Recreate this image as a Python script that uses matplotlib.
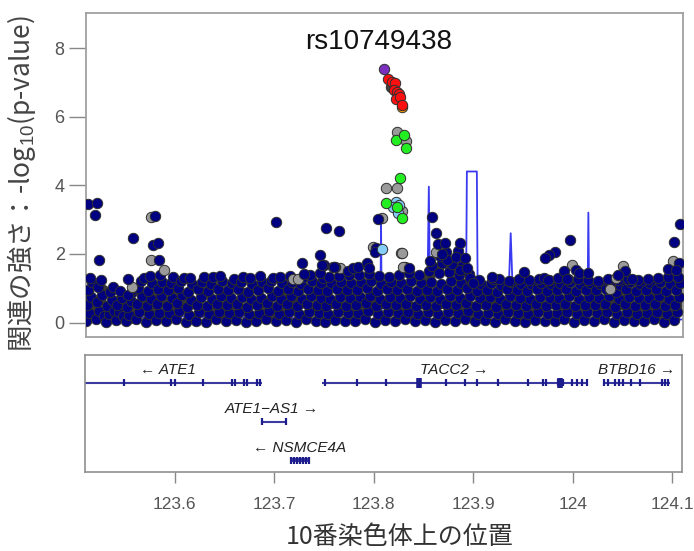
import matplotlib
matplotlib.use("Agg")
import matplotlib.pyplot as plt

plt.rcParams['font.family'] = ['Liberation Sans', 'Noto Sans CJK JP', 'DejaVu Sans']
plt.rcParams['mathtext.fontset'] = 'custom'
plt.rcParams['mathtext.rm'] = 'Liberation Sans'
plt.rcParams['mathtext.it'] = 'Liberation Sans:italic'

# --- SNP cloud: (position Mb, -log10 p) ---
band_navy = [
    (123.511, 0.05), (123.514, 0.28), (123.512, 0.52), (123.516, 0.74), (123.513, 0.96), (123.517, 1.17), (123.515, 1.30),
    (123.521, 0.10), (123.524, 0.33), (123.522, 0.60), (123.527, 0.81), (123.523, 1.05), (123.526, 1.24), (123.529, 0.20),
    (123.531, 0.03), (123.534, 0.24), (123.532, 0.47), (123.537, 0.66), (123.535, 0.88), (123.538, 1.04), (123.539, 0.35),
    (123.541, 0.08), (123.544, 0.30), (123.542, 0.50), (123.547, 0.72), (123.545, 0.92), (123.548, 0.19),
    (123.551, 0.04), (123.554, 0.22), (123.552, 0.45), (123.556, 0.64), (123.557, 0.90), (123.559, 0.99), (123.553, 0.80),
    (123.561, 0.09), (123.564, 0.31), (123.562, 0.55), (123.567, 0.78), (123.563, 1.00), (123.566, 1.22), (123.569, 1.31),
    (123.571, 0.02), (123.574, 0.26), (123.572, 0.48), (123.576, 0.70), (123.573, 0.93), (123.577, 1.15), (123.575, 1.36),
    (123.581, 0.07), (123.584, 0.29), (123.582, 0.53), (123.586, 0.76), (123.583, 0.98), (123.587, 1.19), (123.585, 1.40),
    (123.591, 0.04), (123.594, 0.27), (123.592, 0.49), (123.597, 0.71), (123.593, 0.94), (123.596, 1.16), (123.598, 1.33),
    (123.601, 0.10), (123.604, 0.33), (123.602, 0.57), (123.607, 0.79), (123.603, 1.01), (123.606, 1.21), (123.609, 1.30),
    (123.611, 0.03), (123.614, 0.23), (123.612, 0.45), (123.616, 0.67), (123.613, 0.89), (123.617, 1.11), (123.615, 1.29),
    (123.621, 0.06), (123.624, 0.30), (123.622, 0.52), (123.626, 0.75), (123.623, 0.97), (123.627, 1.18), (123.629, 1.34),
    (123.631, 0.02), (123.634, 0.25), (123.632, 0.48), (123.637, 0.69), (123.633, 0.91), (123.636, 1.13), (123.638, 1.32),
    (123.641, 0.09), (123.644, 0.32), (123.642, 0.55), (123.646, 0.77), (123.643, 0.99), (123.647, 1.20), (123.645, 1.35),
    (123.651, 0.05), (123.654, 0.27), (123.652, 0.50), (123.656, 0.72), (123.653, 0.95), (123.657, 1.16), (123.659, 1.28),
    (123.661, 0.08), (123.664, 0.30), (123.662, 0.53), (123.667, 0.75), (123.663, 0.97), (123.666, 1.19), (123.668, 1.33),
    (123.671, 0.03), (123.674, 0.24), (123.672, 0.46), (123.676, 0.68), (123.673, 0.90), (123.677, 1.12), (123.675, 1.31),
    (123.681, 0.06), (123.684, 0.29), (123.682, 0.51), (123.686, 0.73), (123.683, 0.96), (123.687, 1.17), (123.685, 1.36),
    (123.691, 0.10), (123.694, 0.33), (123.692, 0.56), (123.697, 0.78), (123.693, 1.00), (123.696, 1.21), (123.698, 1.30),
    (123.701, 0.04), (123.704, 0.26), (123.702, 0.49), (123.706, 0.70), (123.703, 0.93), (123.707, 1.14), (123.705, 1.33),
    (123.711, 0.07), (123.714, 0.31), (123.712, 0.54), (123.716, 0.76), (123.713, 0.98), (123.717, 1.19), (123.715, 1.37),
    (123.721, 0.02), (123.724, 0.24), (123.722, 0.47), (123.727, 0.69), (123.723, 0.92), (123.726, 1.13), (123.728, 1.32),
    (123.731, 0.09), (123.734, 0.32), (123.732, 0.55), (123.736, 0.77), (123.733, 0.99), (123.737, 1.20), (123.735, 1.40),
    (123.741, 0.05), (123.744, 0.28), (123.742, 0.50), (123.746, 0.72), (123.743, 0.95), (123.747, 1.16), (123.749, 1.30),
    (123.751, 0.03), (123.754, 0.25), (123.752, 0.48), (123.756, 0.70), (123.753, 0.92), (123.757, 1.14), (123.755, 1.33),
    (123.761, 0.08), (123.764, 0.30), (123.762, 0.53), (123.766, 0.75), (123.763, 0.97), (123.767, 1.18), (123.765, 1.36),
    (123.771, 0.04), (123.774, 0.27), (123.772, 0.49), (123.776, 0.71), (123.773, 0.94), (123.777, 1.15), (123.775, 1.38),
    (123.781, 0.06), (123.784, 0.29), (123.782, 0.52), (123.786, 0.74), (123.783, 0.96), (123.787, 1.17), (123.785, 1.40),
    (123.791, 0.10), (123.794, 0.33), (123.792, 0.56), (123.796, 0.78), (123.793, 1.00), (123.797, 1.21), (123.795, 1.42),
    (123.801, 0.03), (123.804, 0.25), (123.802, 0.47), (123.806, 0.69), (123.803, 0.91), (123.807, 1.12), (123.805, 1.36),
    (123.811, 0.07), (123.814, 0.30), (123.812, 0.53), (123.816, 0.75), (123.813, 0.97), (123.817, 1.18), (123.815, 1.33),
    (123.821, 0.05), (123.824, 0.27), (123.822, 0.50), (123.826, 0.72), (123.823, 0.95), (123.827, 1.16), (123.825, 1.40),
    (123.831, 0.09), (123.834, 0.32), (123.832, 0.55), (123.836, 0.77), (123.833, 0.99), (123.837, 1.21), (123.835, 1.45),
    (123.841, 0.04), (123.844, 0.26), (123.842, 0.48), (123.846, 0.70), (123.843, 0.92), (123.847, 1.14), (123.845, 1.38),
    (123.851, 0.07), (123.854, 0.30), (123.852, 0.52), (123.856, 0.74), (123.853, 0.96), (123.857, 1.17), (123.855, 1.50), (123.858, 1.66),
    (123.861, 0.03), (123.864, 0.25), (123.862, 0.47), (123.866, 0.69), (123.863, 0.91), (123.867, 1.13), (123.865, 1.45), (123.868, 1.75), (123.866, 1.95),
    (123.871, 0.08), (123.874, 0.31), (123.872, 0.54), (123.876, 0.76), (123.873, 0.98), (123.877, 1.20), (123.875, 1.48), (123.878, 1.70), (123.872, 2.05),
    (123.881, 0.05), (123.884, 0.28), (123.882, 0.51), (123.886, 0.73), (123.883, 0.95), (123.887, 1.16), (123.885, 1.40), (123.888, 1.65), (123.884, 2.10),
    (123.891, 0.10), (123.894, 0.33), (123.892, 0.56), (123.896, 0.78), (123.893, 1.00), (123.897, 1.22), (123.895, 1.42),
    (123.901, 0.04), (123.904, 0.26), (123.902, 0.49), (123.906, 0.71), (123.903, 0.93), (123.907, 1.12), (123.905, 1.25),
    (123.911, 0.07), (123.914, 0.29), (123.912, 0.52), (123.916, 0.74), (123.913, 0.96), (123.917, 1.15), (123.919, 1.28),
    (123.921, 0.03), (123.924, 0.24), (123.922, 0.46), (123.926, 0.68), (123.923, 0.90), (123.927, 1.10), (123.925, 1.26),
    (123.931, 0.09), (123.934, 0.31), (123.932, 0.54), (123.936, 0.76), (123.933, 0.98), (123.937, 1.17), (123.935, 1.22),
    (123.941, 0.05), (123.944, 0.27), (123.942, 0.50), (123.946, 0.72), (123.943, 0.94), (123.947, 1.13), (123.945, 1.27),
    (123.951, 0.02), (123.954, 0.25), (123.952, 0.47), (123.956, 0.69), (123.953, 0.91), (123.957, 1.11), (123.955, 1.24),
    (123.961, 0.08), (123.964, 0.30), (123.962, 0.53), (123.966, 0.75), (123.963, 0.97), (123.967, 1.16), (123.965, 1.28),
    (123.971, 0.04), (123.974, 0.26), (123.972, 0.49), (123.976, 0.71), (123.973, 0.93), (123.977, 1.12), (123.975, 1.25),
    (123.981, 0.06), (123.984, 0.29), (123.982, 0.51), (123.986, 0.73), (123.983, 0.95), (123.987, 1.14), (123.985, 1.30),
    (123.991, 0.10), (123.994, 0.32), (123.992, 0.55), (123.996, 0.77), (123.993, 0.99), (123.997, 1.18), (123.995, 1.26),
    (124.001, 0.03), (124.004, 0.25), (124.002, 0.48), (124.006, 0.70), (124.003, 0.92), (124.007, 1.11), (124.005, 1.27),
    (124.011, 0.07), (124.014, 0.30), (124.012, 0.52), (124.016, 0.74), (124.013, 0.96), (124.017, 1.15), (124.015, 1.24),
    (124.021, 0.05), (124.024, 0.27), (124.022, 0.50), (124.026, 0.72), (124.023, 0.94), (124.027, 1.13), (124.025, 1.22),
    (124.031, 0.09), (124.034, 0.31), (124.032, 0.54), (124.036, 0.76), (124.033, 0.98), (124.037, 1.16), (124.035, 1.27),
    (124.041, 0.02), (124.044, 0.24), (124.042, 0.46), (124.046, 0.68), (124.043, 0.90), (124.047, 1.10), (124.045, 1.25),
    (124.051, 0.08), (124.054, 0.30), (124.052, 0.53), (124.056, 0.75), (124.053, 0.97), (124.057, 1.17), (124.055, 1.28),
    (124.061, 0.04), (124.064, 0.26), (124.062, 0.49), (124.066, 0.71), (124.063, 0.93), (124.067, 1.12), (124.065, 1.23),
    (124.071, 0.06), (124.074, 0.29), (124.072, 0.51), (124.076, 0.73), (124.073, 0.95), (124.077, 1.14), (124.075, 1.26),
    (124.081, 0.10), (124.084, 0.32), (124.082, 0.55), (124.086, 0.77), (124.083, 0.99), (124.087, 1.18), (124.085, 1.30),
    (124.091, 0.03), (124.094, 0.25), (124.092, 0.48), (124.096, 0.70), (124.093, 0.92), (124.097, 1.13), (124.095, 1.33),
    (124.101, 0.07), (124.104, 0.30), (124.102, 0.52), (124.106, 0.74), (124.103, 0.96), (124.107, 1.16), (124.105, 1.32),
]

band_dark = [
    (123.518, 0.42), (123.513, 0.86), (123.525, 0.70), (123.528, 0.95), (123.533, 0.15), (123.536, 0.57),
    (123.543, 0.62), (123.546, 0.40), (123.555, 0.12), (123.558, 0.35), (123.565, 0.44), (123.568, 0.66),
    (123.578, 0.37), (123.579, 0.82), (123.588, 0.18), (123.589, 0.63), (123.595, 0.38), (123.599, 0.85),
    (123.605, 0.46), (123.608, 0.68), (123.618, 0.56), (123.619, 0.14), (123.625, 0.41), (123.628, 0.86),
    (123.635, 0.36), (123.639, 0.60), (123.648, 0.44), (123.649, 0.18), (123.655, 0.63), (123.658, 0.38),
    (123.665, 0.42), (123.669, 0.87), (123.678, 0.57), (123.679, 0.15), (123.688, 0.40), (123.689, 0.62),
    (123.695, 0.45), (123.699, 0.22), (123.708, 0.37), (123.709, 0.81), (123.718, 0.43), (123.719, 0.64),
    (123.725, 0.58), (123.729, 0.17), (123.738, 0.41), (123.739, 0.86), (123.745, 0.38), (123.748, 0.61),
    (123.758, 0.56), (123.759, 0.14), (123.768, 0.42), (123.769, 0.83), (123.778, 0.36), (123.779, 0.60),
    (123.788, 0.45), (123.789, 0.20), (123.798, 0.40), (123.799, 0.66), (123.808, 0.58), (123.809, 0.16),
    (123.818, 0.42), (123.819, 0.85), (123.828, 0.38), (123.829, 0.62), (123.838, 0.44), (123.839, 0.18),
    (123.848, 0.56), (123.849, 0.83), (123.859, 0.40), (123.855, 1.32), (123.869, 0.58), (123.864, 1.60),
    (123.879, 0.44), (123.876, 1.62), (123.889, 0.37), (123.886, 1.55), (123.898, 0.45), (123.899, 0.19),
    (123.908, 0.57), (123.909, 0.84), (123.915, 0.41), (123.918, 0.63), (123.928, 0.36), (123.929, 0.15),
    (123.938, 0.43), (123.939, 0.82), (123.948, 0.58), (123.949, 0.21), (123.958, 0.39), (123.959, 0.64),
    (123.968, 0.44), (123.969, 0.86), (123.978, 0.56), (123.979, 0.17), (123.988, 0.40), (123.989, 0.62),
    (123.998, 0.45), (123.999, 0.83), (124.008, 0.37), (124.009, 0.16), (124.018, 0.58), (124.019, 0.84),
    (124.028, 0.42), (124.029, 0.20), (124.038, 0.38), (124.039, 0.65), (124.048, 0.55), (124.049, 0.83),
    (124.058, 0.43), (124.059, 0.17), (124.068, 0.39), (124.069, 0.61), (124.078, 0.46), (124.079, 0.85),
    (124.088, 0.57), (124.089, 0.21), (124.098, 0.40), (124.099, 0.64), (124.108, 0.44), (124.109, 0.86),
]

navy_high = [
    (123.513, 3.46), (123.522, 3.48), (123.520, 3.12), (123.524, 1.83), (123.558, 2.45), (123.580, 3.11),
    (123.578, 2.26), (123.583, 2.31), (123.584, 1.83), (123.553, 1.26), (123.701, 2.92), (123.752, 2.75),
    (123.765, 2.67), (123.745, 1.97), (123.727, 1.73), (123.729, 1.42), (123.750, 1.68), (123.759, 1.61),
    (123.761, 1.61), (123.774, 1.49), (123.779, 1.60), (123.784, 1.61), (123.793, 1.73), (123.795, 1.58),
    (123.802, 2.17), (123.804, 3.02), (123.745, 1.44), (123.801, 2.07), (123.858, 3.07), (123.862, 2.62),
    (123.864, 2.29), (123.871, 2.31), (123.886, 2.31), (123.873, 1.83), (123.882, 1.92), (123.891, 1.87),
    (123.856, 1.78), (123.886, 1.53), (123.893, 1.58), (123.896, 1.29), (123.899, 1.15), (123.835, 1.60),
    (123.918, 1.32), (123.950, 1.48), (123.997, 2.41), (123.981, 2.07), (123.975, 1.97), (123.971, 1.87),
    (124.003, 1.53), (124.006, 1.44), (123.991, 1.49), (123.994, 1.26), (124.015, 1.44), (123.970, 1.29),
    (123.974, 1.24), (124.052, 1.49), (124.045, 1.39), (124.059, 1.26), (124.107, 2.87), (124.101, 2.34),
    (124.106, 1.75), (124.095, 1.55), (124.103, 1.53), (123.748, 1.68), (123.760, 1.63), (123.868, 2.00),
]

grey_pts = [
    (123.576, 3.07), (123.576, 1.83), (123.589, 1.53), (123.557, 1.05), (123.718, 1.26), (123.723, 1.26),
    (123.766, 1.58), (123.799, 2.21), (123.808, 3.04), (123.862, 2.07), (123.827, 2.04), (123.831, 1.63),
    (123.999, 1.68), (124.050, 1.65), (124.043, 1.29), (124.037, 0.97), (124.100, 1.80), (123.823, 5.56),
    (123.832, 5.30), (123.812, 3.93), (123.823, 3.93), (123.828, 3.25), (123.828, 2.04), (123.829, 1.63),
]

lightblue_pts = [(123.808, 2.15), (123.822, 3.52), (123.825, 3.43), (123.819, 3.38), (123.824, 3.18)]
green_pts = [(123.812, 3.48), (123.826, 4.20), (123.822, 5.32), (123.830, 5.46), (123.832, 5.08),
             (123.823, 3.38), (123.828, 3.04)]
orange_pts = [(123.828, 6.27)]
dark_top = [(123.817, 6.86)]
red_pts = [(123.814, 7.09), (123.818, 7.02), (123.821, 6.97), (123.820, 6.79), (123.823, 6.73),
           (123.825, 6.65), (123.822, 6.51), (123.826, 6.58), (123.828, 6.34)]
index_snp = [(123.810, 7.39)]
index_name = "rs10749438"

# recombination rate (cM/Mb)
recomb_pos = [123.510, 123.600, 123.700, 123.8060, 123.8068, 123.8075, 123.8530, 123.8548, 123.8562,
              123.8920, 123.8930, 123.9030, 123.9040, 123.9340, 123.9370, 123.9400, 124.0140, 124.0150,
              124.0160, 124.110]
recomb_rate = [1, 2, 1.5, 1, 32.6, 1, 1, 44, 1, 1, 48.9, 48.9, 1, 1, 28.9, 1, 1, 35.6, 1, 1]

# genes
gene_labels = ["\u2190 ATE1", "TACC2 \u2192", "BTBD16 \u2192", "ATE1\u2212AS1 \u2192", "\u2190 NSMCE4A"]
gene_label_x = [123.593, 123.881, 124.064, 123.698, 123.726]
gene_start = [123.505, 123.748, 124.031, 123.688, 123.716]
gene_end = [123.688, 124.014, 124.098, 123.712, 123.735]
gene_row = [0, 0, 0, -1, -2]
gene_exons = [
    [123.549, 123.596, 123.600, 123.629, 123.658, 123.661, 123.670, 123.673, 123.683, 123.686],
    [123.751, 123.783, 123.812, 123.846, 123.873, 123.892, 123.904, 123.925, 123.955, 123.970,
     123.973, 123.985, 123.990, 123.999, 124.004, 124.009, 124.014],
    [124.031, 124.035, 124.042, 124.046, 124.050, 124.058, 124.067, 124.090, 124.093, 124.096],
    [123.688, 123.712],
    [123.717, 123.720, 123.723, 123.726, 123.729, 123.732, 123.735],
]
big_exons = [(123.845, 0), (123.987, 0)]

xticks = [123.6, 123.7, 123.8, 123.9, 124.0, 124.1]
xtick_labels = ["123.6", "123.7", "123.8", "123.9", "124", "124.1"]

fig = plt.figure(figsize=(6.94, 5.51), dpi=100)
ax = fig.add_axes([0.1232, 0.3884, 0.8609, 0.5880])
ax2 = ax.twinx()
ax.set_zorder(ax2.get_zorder() + 1)
ax.patch.set_visible(False)

ax2.plot(recomb_pos, recomb_rate, color='#3a3af0', lw=1.3)
ax2.set_ylim(-4.67, 100.2)
ax2.set_yticks([])
for s in ax2.spines.values():
    s.set_visible(False)


def dots(pts, face, z):
    ax.scatter([p[0] for p in pts], [p[1] for p in pts], s=56, c=face,
               edgecolors='#2e2e2e', linewidths=0.7, zorder=z)


dots(band_dark, '#3a3a3a', 2)
dots(band_navy, '#000080', 3)
dots(grey_pts, '#9a9a9a', 4)
dots(navy_high, '#000080', 5)
dots(lightblue_pts, '#87cefa', 6)
dots(green_pts, '#22ee22', 7)
dots(orange_pts, '#ffa500', 8)
dots(dark_top, '#444444', 8)
dots(red_pts, '#ff1010', 9)
dots(index_snp, '#7b2fbe', 10)

ax.text(123.804, 8.17, index_name, ha='center', va='center', fontsize=20, color='#111111')

ax.set_xlim(123.51, 124.11)
ax.set_ylim(-0.42, 9.02)
ax.set_xticks([])
ax.set_yticks([0, 2, 4, 6, 8])
ax.tick_params(axis='y', length=12, width=1, color='#888888', labelcolor='#555555',
               labelsize=13, pad=3)
for s in ax.spines.values():
    s.set_color('#a0a0a0')
    s.set_linewidth(1.3)

# gene panel
axg = fig.add_axes([0.1225, 0.1439, 0.8607, 0.2118])
axg.set_xlim(123.51, 124.11)
axg.set_ylim(-2.29, 0.71)
for i in range(len(gene_labels)):
    r = gene_row[i]
    lw = 3.0 if gene_labels[i].endswith('NSMCE4A') else 1.5
    axg.plot([gene_start[i], gene_end[i]], [r, r], color='#3a3aa0', lw=lw, solid_capstyle='butt')
    axg.vlines(gene_exons[i], r - 0.09, r + 0.09, color='#1c1c8c', lw=1.6)
    axg.text(gene_label_x[i], r + 0.33, gene_labels[i], ha='center', va='center',
             fontsize=11, style='italic', color='#222222')
for bx, br in big_exons:
    axg.vlines([bx], br - 0.13, br + 0.13, color='#1c1c8c', lw=4)

axg.set_xticks(xticks)
axg.set_xticklabels(xtick_labels)
axg.set_yticks([])
axg.tick_params(axis='x', length=8, width=1, color='#888888', labelcolor='#555555',
                labelsize=12.5, pad=10)
for s in axg.spines.values():
    s.set_color('#909090')
    s.set_linewidth(1.2)

fig.text(22 / 694, 1 - 183 / 551, '関連の強さ：-log$_{10}$(p-value)', rotation=90,
         ha='center', va='center', fontsize=19, color='#444444',
         family=['Noto Sans CJK JP'])
fig.text(400 / 694, 1 - 537 / 551, '10番染色体上の位置', ha='center', va='center',
         fontsize=18, color='#333333', family=['Noto Sans CJK JP'])

fig.savefig('out.png', dpi=100)
